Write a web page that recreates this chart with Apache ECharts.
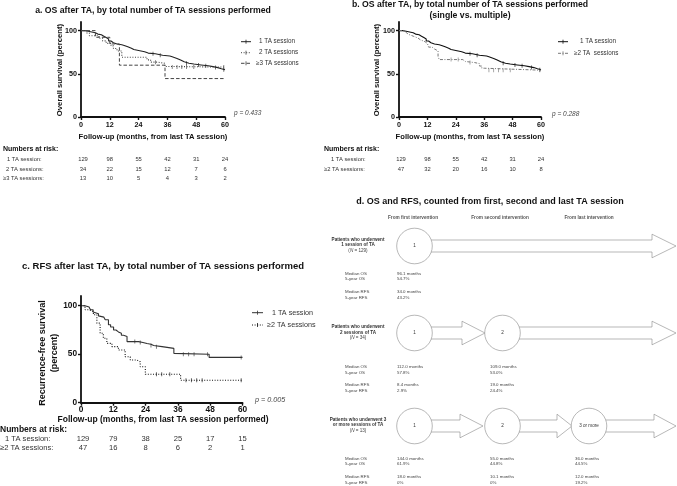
<!DOCTYPE html>
<html><head><meta charset="utf-8">
<script src="https://cdn.jsdelivr.net/npm/echarts@6/dist/echarts.min.js"></script>
<style>html,body{margin:0;padding:0;background:#fff}#c{width:677px;height:486px}</style>
</head><body><div id="c"></div>
<script>
// ---------- data ----------
const xTicks = [0, 12, 24, 36, 48, 60];
const yTicks = [0, 50, 100];

// Kaplan-Meier steps [month, percent]
const osOne = [[0,100],[1.5,99.2],[3,98.4],[4.5,97.6],[6,96],[7,95.2],[8.5,93.6],[9.5,92],[10.5,90.4],[11.5,88],[12.5,86],[13.5,84.5],[15,83.7],[17,82.9],[18,81.3],[19.5,79.7],[21,78.1],[22,77.3],[23.5,76.5],[25,75.6],[26.5,74],[28,73.2],[31,72.4],[32.5,71.5],[34,70.6],[37,69.7],[38,67.8],[40,66],[41.5,64],[43,62.3],[45,61.3],[47,60.3],[50,59.3],[53,58.3],[55,57.2],[57,55.9],[58.5,54.7],[60,54.7]];
const osTwo = [[0,100],[2.5,97.1],[3.5,94.1],[7.5,91.2],[9,88.2],[10.5,85.3],[12.5,82.4],[13.5,79.4],[15,76.5],[17,69.2],[27.5,66.2],[29,63.5],[32,62.2],[35,58.5],[36.5,57.8],[60,57.8]];
const osThreePlus = [[0,100],[6,92.3],[12,84.6],[16,60],[35,44.5],[60,44.5]];
const osTwoPlus = [[0,100],[2,97.9],[3,95.7],[4,93.6],[6,91.5],[8,89.4],[9,87.2],[11,85.1],[12,83],[12.5,80.9],[14,78.7],[15,76.6],[16.5,70],[17,66.5],[27,64.3],[28,63],[32,61.8],[34,59],[35,56.5],[36,54.2],[60,54.2]];
const rfsOne = [[0,100],[1.5,98.6],[3,97],[3.5,95.8],[4.5,93.5],[5.2,91.7],[6.5,89.5],[7.1,88.2],[8.5,86.5],[9,85.5],[10.2,80.3],[11,78],[12.1,75],[13,73],[13.9,71.6],[15,69.5],[15.8,68.2],[17.1,63],[21.4,62],[23,61],[24.5,60.2],[26,59],[27,57.8],[30.1,56],[34.5,50.9],[35,50],[47.6,46.7],[60,46.7]];
const rfsTwoPlus = [[0,100],[1.5,95.8],[3,94],[4.6,90.7],[5.9,82],[7.1,71.6],[8.3,66.4],[9.6,61.2],[11.5,57.8],[13.9,54.3],[16.4,47.4],[18.3,44],[20.8,42.2],[22,37],[23.9,29.4],[37,23.2],[60,23.2]];

// censor times (months)
const osOneCensT = [30, 33, 44, 49, 52, 56, 59.5];
const osTwoCensT = [31, 38, 40, 42, 44, 47, 59.5];
const osTwoPlusCensT = [22, 25, 30, 38, 40, 42, 44, 47, 59.5];
const rfsOneCensT = [20, 22, 26, 28, 38, 40, 42, 47, 59.5];
const rfsTwoPlusCensT = [28, 30, 33, 39, 41, 43, 45, 59.5];

// numbers at risk
const riskTimes = [0, 12, 24, 36, 48, 60];
const riskA1 = [129, 98, 55, 42, 31, 24];
const riskA2 = [34, 22, 15, 12, 7, 6];
const riskA3 = [13, 10, 5, 4, 3, 2];
const riskB1 = [129, 98, 55, 42, 31, 24];
const riskB2 = [47, 32, 20, 16, 10, 8];
const riskC1 = [129, 79, 38, 25, 17, 15];
const riskC2 = [47, 16, 8, 6, 2, 1];

// panel d
const statLabels = ['Median OS', '5-year OS', 'Median RFS', '5-year RFS'];
const r1c1 = ['96.1 months', '54.7%', '34.0 months', '43.2%'];
const r2c1 = ['112.0 months', '57.8%', '8.4 months', '2.9%'];
const r2c2 = ['109.0 months', '53.0%', '19.0 months', '24.4%'];
const r3c1 = ['144.0 months', '61.9%', '18.0 months', '0%'];
const r3c2 = ['55.0 months', '44.8%', '10.1 months', '0%'];
const r3c3 = ['36.0 months', '44.5%', '12.0 months', '19.2%'];

// ---------- chart ----------
const FF = '"Liberation Sans", Arial, Helvetica, sans-serif';
const chart = echarts.init(document.getElementById('c'), null, {renderer: 'canvas'});

function stepAt(curve, t) { let v = curve[0][1]; for (const p of curve) { if (p[0] <= t) v = p[1]; else break; } return v; }
function cens(curve, ts) { return ts.map(t => [t, stepAt(curve, t)]); }

const grids = [
  {left: 81, top: 22, width: 144, height: 95},
  {left: 399, top: 22, width: 142, height: 95},
  {left: 81, top: 296, width: 161.5, height: 106.7}
];
function xAx(i, fs, m) {
  return {type: 'value', gridIndex: i, min: 0, max: 60, interval: 12,
    axisLine: {lineStyle: {color: '#111', width: 1.8}},
    axisTick: {length: 3, lineStyle: {width: 1.4, color: '#111'}},
    axisLabel: {fontFamily: FF, fontWeight: 'bold', fontSize: fs, color: '#111', margin: m},
    splitLine: {show: false}};
}
function yAx(i, fs) {
  return {type: 'value', gridIndex: i, min: 0, max: 110,
    axisLine: {show: true, lineStyle: {color: '#111', width: 1.8}},
    axisTick: {show: true, length: 3, customValues: yTicks, lineStyle: {width: 1.4, color: '#111'}},
    axisLabel: {customValues: yTicks, fontFamily: FF, fontWeight: 'bold', fontSize: fs, color: '#111', margin: 4},
    splitLine: {show: false}};
}
function km(data, i, color, type, w) {
  return {type: 'line', xAxisIndex: i, yAxisIndex: i, data: data, step: 'end', symbol: 'none', showSymbol: false,
    lineStyle: {color: color, width: w, type: type}, silent: true, animation: false};
}
function cm(data, i, color) {
  return {type: 'scatter', xAxisIndex: i, yAxisIndex: i, data: data, symbol: 'rect', symbolSize: [0.8, 4],
    itemStyle: {color: color}, silent: true, animation: false};
}

const C1 = '#222', C2 = '#444', CG = '#777';
const DOT = [1, 1.6], DASH = [3.5, 2], DASHDOT = [3, 1.5, 1, 1.5];

chart.setOption({
  animation: false,
  grid: grids,
  xAxis: [xAx(0, 7.2, 5), xAx(1, 7.2, 5), xAx(2, 8.3, 3.5)],
  yAxis: [yAx(0, 7.2), yAx(1, 7.2), yAx(2, 8.3)],
  series: [
    km(osOne, 0, C1, 'solid', 1.1), km(osTwo, 0, C2, DOT, 1.1), km(osThreePlus, 0, C2, DASH, 1),
    cm(cens(osOne, osOneCensT), 0, C1), cm(cens(osTwo, osTwoCensT), 0, C2),
    km(osOne, 1, '#111', 'solid', 1.1), km(osTwoPlus, 1, CG, DASHDOT, 1),
    cm(cens(osOne, osOneCensT), 1, '#111'), cm(cens(osTwoPlus, osTwoPlusCensT), 1, CG),
    km(rfsOne, 2, '#333', 'solid', 1.1), km(rfsTwoPlus, 2, '#111', DOT, 1.1),
    cm(cens(rfsOne, rfsOneCensT), 2, '#333'), cm(cens(rfsTwoPlus, rfsTwoPlusCensT), 2, '#111')
  ]
});

// ---------- graphic texts ----------
const G = [];
function T(x, y, s, fs, o) {
  o = o || {};
  G.push({type: 'text', x: x, y: y, rotation: o.rot || 0, silent: true,
    style: {text: s, fontFamily: FF, fontSize: fs, fontWeight: o.bold ? 'bold' : 'normal',
      fontStyle: o.italic ? 'italic' : 'normal', fill: o.color || '#222',
      align: o.align || 'left', verticalAlign: 'middle', rich: o.rich}});
}
function L(x1, y1, x2, y2, color, dash, w) {
  G.push({type: 'line', silent: true, shape: {x1: x1, y1: y1, x2: x2, y2: y2},
    style: {stroke: color, lineWidth: w || 1, lineDash: dash || null}});
}
function legendItem(x1, x2, y, color, dash, label, tx, fs) {
  L(x1, y, x2, y, color, dash, 1);
  L((x1 + x2) / 2, y - 2, (x1 + x2) / 2, y + 2, color, null, 0.8);
  T(tx, y, label, fs, {color: '#333'});
}
function riskRow(ax, vals, y, fs) {
  riskTimes.forEach((t, k) => {
    const px = chart.convertToPixel({xAxisIndex: ax}, t);
    T(px + (k === 0 ? 2 : 0), y, String(vals[k]), fs, {align: 'center', color: '#333'});
  });
}

// Panel a
T(153, 10.5, 'a. OS after TA, by total number of TA sessions performed', 8.7, {bold: true, align: 'center', color: '#111'});
T(60, 70, 'Overall survival (percent)', 7.7, {bold: true, align: 'center', rot: Math.PI / 2, color: '#111'});
T(153, 137, 'Follow-up (months, from last TA session)', 7.6, {bold: true, align: 'center', color: '#111'});
T(234, 113, 'p = 0.433', 6.5, {italic: true, color: '#444'});
legendItem(241, 251, 41.7, C1, null, '1 TA session', 259, 6.3);
legendItem(241, 251, 52.7, C2, DOT, '2 TA sessions', 259, 6.3);
legendItem(241, 251, 63.3, C2, DASH, '\u22653 TA sessions', 256, 6.3);
T(3, 149, 'Numbers at risk:', 7, {bold: true, color: '#111'});
T(7, 159.5, '1 TA session:', 5.8, {color: '#333'});
T(6, 169, '2 TA sessions:', 5.8, {color: '#333'});
T(3, 178.5, '\u22653 TA sessions:', 5.8, {color: '#333'});
riskRow(0, riskA1, 159.5, 5.8); riskRow(0, riskA2, 169, 5.8); riskRow(0, riskA3, 178.5, 5.8);

// Panel b
T(470, 5, 'b. OS after TA, by total number of TA sessions performed', 8.7, {bold: true, align: 'center', color: '#111'});
T(470, 15.5, '(single vs. multiple)', 8.7, {bold: true, align: 'center', color: '#111'});
T(377, 70, 'Overall survival (percent)', 7.7, {bold: true, align: 'center', rot: Math.PI / 2, color: '#111'});
T(470, 137, 'Follow-up (months, from last TA session)', 7.6, {bold: true, align: 'center', color: '#111'});
T(552, 114, 'p = 0.288', 6.5, {italic: true, color: '#444'});
legendItem(558, 568, 41.7, '#111', null, '1 TA session', 580, 6.3);
legendItem(558, 568, 53.3, CG, DASHDOT, '\u22652 TA  sessions', 574, 6.3);
T(324, 149, 'Numbers at risk:', 7, {bold: true, color: '#111'});
T(331, 159.5, '1 TA session:', 5.8, {color: '#333'});
T(324, 169, '\u22652 TA sessions:', 5.8, {color: '#333'});
riskRow(1, riskB1, 159.5, 5.8); riskRow(1, riskB2, 169, 5.8);

// Panel c
T(163, 266, 'c. RFS after last TA, by total number of TA sessions performed', 9.5, {bold: true, align: 'center', color: '#111'});
T(43, 353, 'Recurrence-free survival', 9, {bold: true, align: 'center', rot: Math.PI / 2, color: '#111'});
T(55, 353, '(percent)', 9, {bold: true, align: 'center', rot: Math.PI / 2, color: '#111'});
T(163, 419.5, 'Follow-up (months, from last TA session performed)', 8.5, {bold: true, align: 'center', color: '#111'});
T(255, 400, 'p = 0.005', 7.2, {italic: true, color: '#444'});
legendItem(252, 263, 312.7, '#333', null, '1 TA session', 272, 7.2);
legendItem(252, 263, 325, '#111', DOT, '\u22652 TA sessions', 267, 7.2);
T(0, 429.5, 'Numbers at risk:', 8.5, {bold: true, color: '#111'});
T(5, 439, '1 TA session:', 7.6, {color: '#333'});
T(0, 448, '\u22652 TA sessions:', 7.6, {color: '#333'});
riskRow(2, riskC1, 439, 7.6); riskRow(2, riskC2, 448, 7.6);

// Panel d
T(490, 202, 'd. OS and RFS, counted from first, second and last TA session', 9, {bold: true, align: 'center', color: '#111'});
T(413, 218, 'From first intervention', 4.7, {bold: true, align: 'center', color: '#555'});
T(500, 218, 'From second intervention', 4.7, {bold: true, align: 'center', color: '#555'});
T(589, 218, 'From last intervention', 4.7, {bold: true, align: 'center', color: '#555'});

const R = 17.8, SH = 6, HH = 11.8;
function arrow(x0, xh, xt, cy) {
  G.push({type: 'polygon', silent: true,
    shape: {points: [[x0, cy - SH], [xh, cy - SH], [xh, cy - HH], [xt, cy], [xh, cy + HH], [xh, cy + SH], [x0, cy + SH]]},
    style: {fill: '#fff', stroke: '#888', lineWidth: 0.6}});
}
function circ(cx, cy, label) {
  G.push({type: 'circle', silent: true, shape: {cx: cx, cy: cy, r: R}, style: {fill: '#fff', stroke: '#888', lineWidth: 0.6}});
  T(cx, cy, label, 4.6, {align: 'center', color: '#333'});
}
function rowLabel(y, lines) {
  T(358, y - 5.5, lines[0], 4.6, {bold: true, align: 'center', color: '#333'});
  T(358, y, lines[1], 4.6, {bold: true, align: 'center', color: '#333'});
  T(358, y + 5.5, lines[2], 4.6, {align: 'center', color: '#444', rich: {i: {fontStyle: 'italic', fontSize: 4.6, fontFamily: FF, fill: '#444'}}});
}
function stats(ys, col, vals) { ys.forEach((y, k) => T(col, y, vals[k], 4.4, {color: '#444'})); }

const cxs = [414.5, 502.5, 589];
// row 1
arrow(428, 652, 676, 246);
circ(cxs[0], 246, '1');
rowLabel(245, ['Patients who underwent', '1 session of TA', '({i|N} = 129)']);
const y1 = [273.3, 278.7, 291.7, 297.3];
stats(y1, 345, statLabels); stats(y1, 397, r1c1);
// row 2
arrow(428, 462, 485, 333); arrow(516, 652, 676, 333);
circ(cxs[0], 333, '1'); circ(cxs[1], 333, '2');
rowLabel(332.5, ['Patients who underwent', '2 sessions of TA', '({i|N} = 34)']);
const y2 = [366.7, 372.3, 385, 390.7];
stats(y2, 345, statLabels); stats(y2, 397, r2c1); stats(y2, 490, r2c2);
// row 3
arrow(428, 460, 483, 426); arrow(516, 557, 572, 426); arrow(603, 654, 676, 426);
circ(cxs[0], 426, '1'); circ(cxs[1], 426, '2'); circ(cxs[2], 426, '3 or more');
rowLabel(425, ['Patients who underwent 3', 'or more sessions of TA', '({i|N} = 13)']);
const y3 = [458.3, 464, 476.7, 482.3];
stats(y3, 345, statLabels); stats(y3, 397, r3c1); stats(y3, 490, r3c2); stats(y3, 575, r3c3);

chart.setOption({graphic: {elements: G}});
</script></body></html>
